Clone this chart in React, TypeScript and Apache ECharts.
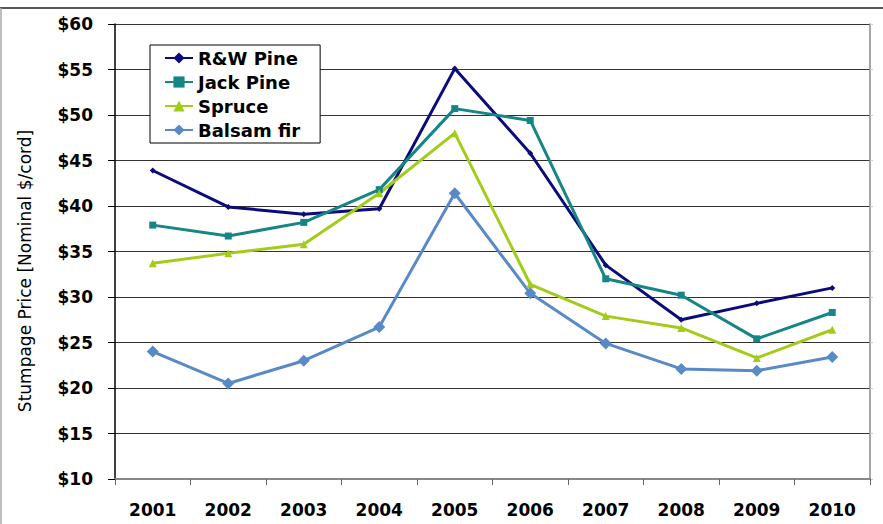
import React, { useEffect, useRef } from "react";
import * as echarts from "echarts";

const years = ["2001", "2002", "2003", "2004", "2005", "2006", "2007", "2008", "2009", "2010"];
const rwPine = [43.9, 39.9, 39.1, 39.7, 55.1, 45.8, 33.5, 27.5, 29.3, 31.0];
const jackPine = [37.9, 36.7, 38.2, 41.8, 50.7, 49.4, 32.0, 30.2, 25.4, 28.3];
const spruce = [33.7, 34.8, 35.8, 41.4, 48.0, 31.4, 27.9, 26.6, 23.3, 26.4];
const balsamFir = [24.0, 20.5, 23.0, 26.7, 41.4, 30.4, 24.9, 22.1, 21.9, 23.4];
const yTitle = "Stumpage Price [Nominal $/cord]";

const FONT = "'DejaVu Sans', Arial, sans-serif";

export default function App() {
  const ref = useRef<HTMLDivElement>(null);
  useEffect(() => {
    document.body.style.margin = "0";
    const chart = echarts.init(ref.current!, null, { renderer: "svg" });
    const mk = (name: string, data: number[], color: string, symbol: string, size: number) => ({
      name,
      type: "line",
      data,
      symbol,
      symbolSize: size,
      showSymbol: true,
      lineStyle: { color, width: 3 },
      itemStyle: { color },
      yAxisIndex: 0,
    });
    chart.setOption({
      animation: false,
      backgroundColor: "#ffffff",
      grid: { left: 115, right: 13, top: 24, bottom: 45, containLabel: false },
      legend: {
        orient: "vertical",
        left: 150,
        top: 45,
        padding: [4, 20, 4, 14],
        itemGap: 6,
        itemWidth: 28,
        itemHeight: 14,
        borderColor: "#000",
        borderWidth: 1,
        backgroundColor: "#fff",
        textStyle: { fontFamily: FONT, fontSize: 18, fontWeight: "bold", color: "#000" },
        data: ["R&W Pine", "Jack Pine", "Spruce", "Balsam fir"],
      },
      xAxis: {
        type: "category",
        data: years,
        boundaryGap: true,
        axisLine: { lineStyle: { color: "#888", width: 2 } },
        axisTick: { show: true, interval: 0, length: 6, lineStyle: { color: "#666", width: 1 } },
        axisLabel: { margin: 22, fontFamily: FONT, fontSize: 17, fontWeight: "bold", color: "#000", interval: 0 },
        splitLine: { show: false },
      },
      yAxis: [
        {
          type: "value",
          min: 10,
          max: 60,
          interval: 5,
          axisLine: { show: true, lineStyle: { color: "#000", width: 1.5 } },
          axisTick: { show: true, length: 7, lineStyle: { color: "#000" } },
          axisLabel: {
            margin: 22,
            fontFamily: FONT,
            fontSize: 17,
            fontWeight: "bold",
            color: "#000",
            formatter: (v: number) => "$" + v,
          },
          splitLine: { show: true, lineStyle: { color: "#333", width: 1.2 } },
        },
        {
          type: "value",
          min: 10,
          max: 60,
          interval: 5,
          position: "right",
          axisLine: { show: true, lineStyle: { color: "#888", width: 1.5 } },
          axisTick: { show: true, length: 3, lineStyle: { color: "#ccc" } },
          axisLabel: { show: false },
          splitLine: { show: false },
        },
      ],
      graphic: [
        { type: "line", shape: { x1: 0, y1: 8, x2: 883, y2: 8 }, style: { stroke: "#222", lineWidth: 1.5 } },
        { type: "line", shape: { x1: 1, y1: 8, x2: 1, y2: 524 }, style: { stroke: "#aaa", lineWidth: 1.5 } },
        {
          type: "text",
          x: 25,
          y: 271,
          rotation: Math.PI / 2,
          style: {
            text: yTitle,
            fontFamily: FONT,
            fontSize: 17,
            fill: "#000",
            textAlign: "center",
            textVerticalAlign: "middle",
          },
        },
      ],
      series: [
        mk("R&W Pine", rwPine, "#0b0b7a", "diamond", 6),
        mk("Jack Pine", jackPine, "#178585", "rect", 7),
        mk("Spruce", spruce, "#a3cc1a", "triangle", 8),
        mk("Balsam fir", balsamFir, "#5a8ac6", "diamond", 12),
      ],
    });
    return () => chart.dispose();
  }, []);
  return <div ref={ref} style={{ width: 883, height: 524 }} />;
}
